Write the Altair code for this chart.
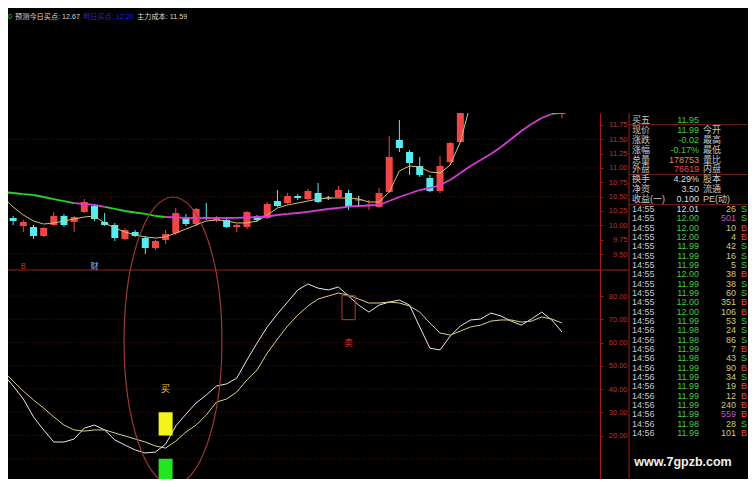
import altair as alt
import pandas as pd

# ---------------- candle data (daily OHLC) ----------------
opens = [10.564, 10.128, 9.988, 9.971, 9.814, 10.006, 10.163, 10.058, 10.233, 10.337,
         10.058, 10.006, 9.761, 9.884, 9.779, 9.604, 9.744, 9.866, 10.145, 10.023,
         10.145, 10.093, 10.093, 9.971, 9.971, 10.163, 10.128, 10.424, 10.389, 10.512,
         10.459, 10.564, 10.477, 10.494, 10.564, 10.442, 10.346, 10.320, 10.581, 11.488,
         11.279, 11.035, 10.826, 10.599, 11.105, 11.453, 12.10, 12.50, 12.85, 12.60,
         12.75, 12.38, 12.25, 12.15, 12.08, 11.94]
highs = [10.651, 10.163, 10.093, 10.006, 9.971, 10.233, 10.198, 10.163, 10.459, 10.372,
         10.215, 10.041, 9.953, 9.919, 9.814, 9.744, 9.919, 10.302, 10.198, 10.302,
         10.389, 10.163, 10.145, 10.023, 10.250, 10.180, 10.407, 10.616, 10.564, 10.546,
         10.634, 10.738, 10.512, 10.686, 10.616, 10.512, 10.442, 10.651, 11.558, 11.837,
         11.314, 11.192, 10.878, 11.209, 11.453, 12.10, 12.60, 12.95, 13.10, 12.90,
         12.85, 12.55, 12.40, 12.30, 12.20, 12.10]
lows = [10.076, 10.006, 9.884, 9.761, 9.796, 9.988, 9.971, 9.884, 10.215, 10.076,
        9.988, 9.727, 9.744, 9.796, 9.500, 9.570, 9.674, 9.831, 9.988, 9.988,
        10.093, 10.058, 9.953, 9.884, 9.936, 10.058, 10.110, 10.320, 10.372, 10.442,
        10.442, 10.389, 10.442, 10.477, 10.267, 10.320, 10.267, 10.302, 10.564, 11.279,
        10.878, 10.843, 10.581, 10.564, 11.052, 11.44, 12.02, 12.40, 12.55, 12.45,
        12.30, 12.15, 12.05, 12.00, 11.98, 11.87]
closes = [10.128, 10.076, 10.058, 9.814, 9.953, 10.163, 10.006, 10.145, 10.407, 10.110,
          10.006, 9.779, 9.919, 9.814, 9.604, 9.727, 9.849, 10.215, 10.023, 10.285,
          10.128, 10.145, 9.971, 10.006, 10.233, 10.093, 10.372, 10.337, 10.512, 10.477,
          10.599, 10.407, 10.477, 10.616, 10.320, 10.442, 10.355, 10.564, 11.192, 11.349,
          11.087, 10.878, 10.599, 11.035, 11.436, 12.05, 12.48, 12.80, 12.62, 12.78,
          12.40, 12.25, 12.12, 12.05, 12.01, 11.99]

ma5 = [10.494, 10.320, 10.180, 10.076, 10.023, 10.041, 10.076, 10.110, 10.145, 10.163,
       10.041, 9.953, 9.884, 9.832, 9.797, 9.779, 9.797, 9.866, 9.936, 10.006,
       10.076, 10.093, 10.076, 10.041, 10.041, 10.076, 10.180, 10.302, 10.355, 10.389,
       10.424, 10.459, 10.477, 10.477, 10.477, 10.459, 10.407, 10.407, 10.581, 10.948,
       11.035, 11.017, 10.930, 10.913, 11.052, 11.453, 12.12, 12.30, 12.50, 12.65,
       12.75, 12.70, 12.60, 12.45, 12.30, 12.15]

ma_long = [10.581, 10.564, 10.546, 10.529, 10.494, 10.459, 10.424, 10.389, 10.372, 10.355,
           10.320, 10.285, 10.250, 10.224, 10.198, 10.163, 10.145, 10.137, 10.128, 10.128,
           10.128, 10.128, 10.128, 10.130, 10.137, 10.145, 10.154, 10.180, 10.198, 10.215,
           10.233, 10.259, 10.285, 10.302, 10.328, 10.337, 10.346, 10.355, 10.424, 10.494,
           10.555, 10.616, 10.651, 10.703, 10.791, 10.913, 11.035, 11.140, 11.244, 11.366,
           11.506, 11.645, 11.767, 11.872, 11.942, 11.965]
# colour of each segment (starting at that day): g = green, m = magenta
ma_long_seg = (["g"] * 7 + ["m"] * 3 + ["g"] * 6 + ["m"] * 38 + ["g"] * 2)

# ---------------- oscillator ----------------
k_line = [46.5, 41.3, 35.7, 28.0, 22.4, 17.2, 17.2, 18.5, 23.2, 24.5,
          22.4, 18.1, 15.9, 13.8, 12.5, 12.9, 16.3, 24.1, 29.2, 34.0,
          37.4, 41.3, 42.2, 44.7, 52.5, 59.8, 66.7, 72.3, 77.4, 82.6,
          85.2, 83.4, 82.6, 83.9, 80.0, 76.1, 73.1, 76.1, 77.4, 78.3,
          76.1, 66.7, 57.6, 56.8, 62.8, 67.1, 69.7, 70.1, 72.7, 71.4,
          69.2, 67.5, 70.1, 73.1, 69.7, 64.5]
d_line = [47.7, 43.4, 39.1, 35.3, 31.8, 28.0, 24.5, 22.4, 21.9, 22.4,
          22.4, 21.1, 19.8, 18.5, 17.2, 15.5, 14.6, 17.6, 21.5, 24.5,
          28.8, 34.4, 35.7, 38.7, 43.9, 48.2, 55.5, 61.5, 67.1, 71.8,
          75.7, 78.7, 80.0, 81.3, 80.4, 78.7, 77.0, 77.0, 77.4, 77.0,
          75.7, 73.1, 68.4, 64.1, 63.2, 64.9, 66.7, 67.5, 69.2, 69.7,
          69.7, 68.8, 69.2, 71.0, 70.1, 68.4]

buy_day = 16
sell_day = 34

# ---------------- quote table ----------------
sum_labels = ["买五", "现价", "涨跌", "涨幅", "总量", "外盘", "换手", "净资", "收益(一)"]
sum_values = ["11.95", "11.99", "-0.02", "-0.17%", "178753", "76619", "4.29%", "3.50", "0.100"]
sum_kinds = ["down", "down", "down", "down", "vol", "up", "plain", "plain", "plain"]
sum_labels2 = ["", "今开", "最高", "最低", "量比", "内盘", "股本", "流通", "PE(动)"]

prev_close = 12.01
trade_times = ["14:55"] * 12 + ["14:56"] * 13
trade_prices = [12.01, 12.00, 12.00, 12.00, 11.99, 11.99, 11.99, 12.00, 11.99, 11.99,
                12.00, 12.00, 11.99, 11.98, 11.98, 11.99, 11.98, 11.99, 11.99, 11.99,
                11.99, 11.99, 11.99, 11.98, 11.99]
trade_vols = [26, 501, 10, 4, 42, 16, 5, 38, 38, 60, 351, 106, 53, 24, 86, 7, 43, 90,
              34, 19, 12, 240, 559, 28, 101]
trade_sides = ["S", "S", "B", "B", "S", "S", "S", "B", "S", "S", "B", "B", "S", "S",
               "S", "B", "S", "B", "S", "B", "B", "B", "B", "S", "B"]

price_ticks = [9.5, 9.75, 10.0, 10.25, 10.5, 10.75, 11.0, 11.25, 11.5, 11.75]
price_grid = [9.5, 10.0, 10.5, 11.0, 11.5]
osc_ticks = [20, 30, 40, 50, 60, 70, 80]
osc_grid = [10, 20, 30, 40, 50, 60, 70, 80]

# ---------------- styling ----------------
UP, DOWN, FLAT = "#f24646", "#54eef2", "#e0e0e0"
GREEN_T, RED_T, WHITE_T, LABEL_T = "#3fcf3f", "#e84848", "#dcdcdc", "#c8c8c8"
FRAME = "#a01e1e"
FONT = "Liberation Sans, Noto Sans CJK SC"
CJK = "Noto Sans CJK SC"
TFS = 9  # table font size


def ccol(o, c):
    if c > o + 1e-9:
        return UP
    if c < o - 1e-9:
        return DOWN
    return FLAT


n = len(opens)
candles = pd.DataFrame({"i": range(n), "o": opens, "h": highs, "l": lows, "c": closes})
candles["col"] = [ccol(o, c) for o, c in zip(opens, closes)]
flat_c = candles[(candles["c"] - candles["o"]).abs() < 0.02]

seg_rows = []
for i in range(n - 1):
    colr = "#2ed02e" if ma_long_seg[i] == "g" else "#d83cd8"
    seg_rows.append({"seg": i, "i": i, "v": ma_long[i], "col": colr})
    seg_rows.append({"seg": i, "i": i + 1, "v": ma_long[i + 1], "col": colr})
ma_long_df = pd.DataFrame(seg_rows)
ma5_df = pd.DataFrame({"i": range(n), "v": ma5})
osc_df = pd.DataFrame({"i": list(range(n)) * 2, "v": k_line + d_line,
                       "s": ["K"] * n + ["D"] * n})

X = alt.Scale(domain=[0, 55], range=[-5, 554], nice=False, zero=False)
PY = alt.Scale(domain=[9.221, 11.959], range=[157, 0], nice=False, zero=False)
OY = alt.Scale(domain=[0, 91.2], range=[369, 157], nice=False, zero=False)

axis_common = dict(orient="right", offset=-148, format=".2f", labelColor="#b23a3a",
                   labelFontSize=7.5, labelFont="Liberation Sans", labelAlign="right",
                   labelPadding=24, tickSize=3, tickColor=FRAME, domainColor=FRAME,
                   grid=False, title=None, labelOverlap=False, labelBaseline="middle")
price_axis = alt.Axis(values=price_ticks, **axis_common)
osc_axis = alt.Axis(values=osc_ticks, **axis_common)

xi = alt.X("i:Q", scale=X, axis=None)

# price panel
pgrid = alt.Chart(pd.DataFrame({"v": price_grid})).mark_rule(
    color="#4a1010", strokeDash=[1, 2], strokeWidth=1).encode(
    y=alt.Y("v:Q", scale=PY, axis=None), x=alt.value(0), x2=alt.value(592))
wick = alt.Chart(candles).mark_rule(strokeWidth=1, clip=True).encode(
    x=xi, y=alt.Y("l:Q", scale=PY, axis=price_axis), y2="h:Q",
    color=alt.Color("col:N", scale=None))
body = alt.Chart(candles).mark_rule(strokeWidth=7, clip=True).encode(
    x=xi, y=alt.Y("o:Q", scale=PY, axis=None), y2="c:Q",
    color=alt.Color("col:N", scale=None))
doji = alt.Chart(flat_c).mark_tick(orient="horizontal", size=7, thickness=1, clip=True).encode(
    x=xi, y=alt.Y("c:Q", scale=PY, axis=None), color=alt.Color("col:N", scale=None))
ma5_line = alt.Chart(ma5_df).mark_line(color="#d6c274", strokeWidth=1, clip=True).encode(
    x=xi, y=alt.Y("v:Q", scale=PY, axis=None))
mal_line = alt.Chart(ma_long_df).mark_line(strokeWidth=1.8, clip=True).encode(
    x=xi, y=alt.Y("v:Q", scale=PY, axis=None), detail="seg:N",
    color=alt.Color("col:N", scale=None))
ev_df = pd.DataFrame({"i": [2, 9], "t": ["B", "财"], "col": ["#d23030", "#9cc0ec"]})
events = alt.Chart(ev_df).mark_text(fontSize=8, font=CJK, baseline="middle").encode(
    x=xi, y=alt.value(154), text="t:N", color=alt.Color("col:N", scale=None))

# oscillator panel
ogrid = alt.Chart(pd.DataFrame({"v": osc_grid})).mark_rule(
    color="#4a1010", strokeDash=[1, 2], strokeWidth=1).encode(
    y=alt.Y("v:Q", scale=OY, axis=None), x=alt.value(0), x2=alt.value(592))
osc_lines = alt.Chart(osc_df).mark_line(strokeWidth=1).encode(
    x=xi, y=alt.Y("v:Q", scale=OY, axis=osc_axis),
    color=alt.Color("s:N", scale=alt.Scale(domain=["K", "D"], range=["#e8e8e8", "#d8d08c"]),
                    legend=None))
sig_df = pd.DataFrame({"i": [buy_day, buy_day], "v0": [20, 0], "v1": [30, 10],
                       "col": ["#f4f41c", "#22e622"]})
sig_boxes = alt.Chart(sig_df).mark_rule(strokeWidth=14).encode(
    x=xi, y=alt.Y("v0:Q", scale=OY, axis=None), y2="v1:Q",
    color=alt.Color("col:N", scale=None))
sell_box = alt.Chart(pd.DataFrame({"i": [sell_day], "v": [75]})).mark_point(
    shape="M-0.55,-1L0.55,-1L0.55,1L-0.55,1Z", size=576, filled=False,
    color="#c83232", strokeWidth=1, opacity=1).encode(
    x=xi, y=alt.Y("v:Q", scale=OY, axis=None))
sig_txt = alt.Chart(pd.DataFrame({"i": [buy_day, sell_day], "v": [40, 60], "t": ["买", "卖"],
                                  "col": ["#e6d22a", "#e03030"]})).mark_text(
    fontSize=9, font=CJK, baseline="middle").encode(
    x=xi, y=alt.Y("v:Q", scale=OY, axis=None), text="t:N",
    color=alt.Color("col:N", scale=None))
ellipse = alt.Chart(pd.DataFrame({"a": [0]})).mark_point(
    shape="M0,-1A0.34,1 0 1,1 0,1A0.34,1 0 1,1 0,-1Z", size=82944, filled=False,
    color="#9c3a36", strokeWidth=1.2, opacity=1).encode(x=alt.value(165), y=alt.value(228))

# frame lines
frame_df = pd.DataFrame({"x": [0, 621, 621, 621, 621], "x2": [621, 621, 740, 740, 740],
                         "y": [157, 0, 11.5, 61.5, 91.5], "y2": [157, 366, 11.5, 61.5, 91.5],
                         "col": [FRAME, FRAME, "#6a1a1a", "#6a1a1a", "#6a1a1a"]})
frames = alt.Chart(frame_df).mark_rule(strokeWidth=1).encode(
    x=alt.X("x:Q", scale=None), x2="x2:Q", y=alt.Y("y:Q", scale=None), y2="y2:Q",
    color=alt.Color("col:N", scale=None))


# header
def head(txt, xpos, colr, align="left"):
    return alt.Chart(pd.DataFrame({"t": [txt]})).mark_text(
        fontSize=7.2, font=FONT, align=align, baseline="middle", color=colr).encode(
        text="t:N", x=alt.value(xpos), y=alt.value(-96))


header = [head("12.00", 4, "#2ed02e", "right"),
          head("预测今日买点: 12.67", 7, "#d8d8d8"),
          head("明日买点: 12.20", 75, "#2424e0"),
          head("主力成本: 11.59", 129, "#d8d8d8")]

# quote table
kind_col = {"down": GREEN_T, "up": RED_T, "vol": "#d89a58", "plain": WHITE_T}
sum_df = pd.DataFrame({"r": range(len(sum_labels)), "lab": sum_labels, "val": sum_values,
                       "lab2": sum_labels2, "col": [kind_col[k] for k in sum_kinds]})
SY = alt.Scale(domain=[0, 8], range=[7, 86], nice=False, zero=False)
ys = alt.Y("r:Q", scale=SY, axis=None)
t_lab = alt.Chart(sum_df).mark_text(fontSize=TFS, font=FONT, align="left", baseline="middle",
                                    color=LABEL_T).encode(x=alt.value(624), y=ys, text="lab:N")
t_val = alt.Chart(sum_df).mark_text(fontSize=TFS, font=FONT, align="right", baseline="middle").encode(
    x=alt.value(691), y=ys, text="val:N", color=alt.Color("col:N", scale=None))
t_lab2 = alt.Chart(sum_df).mark_text(fontSize=TFS, font=FONT, align="left", baseline="middle",
                                     color=LABEL_T).encode(x=alt.value(695), y=ys, text="lab2:N")

tr = pd.DataFrame({"r": range(len(trade_times)), "tm": trade_times,
                   "p": [f"{p:.2f}" for p in trade_prices],
                   "vol": [str(v) for v in trade_vols], "sd": trade_sides})
tr["pc"] = [WHITE_T if p == prev_close else (GREEN_T if p < prev_close else RED_T)
            for p in trade_prices]
tr["vc"] = ["#c050c8" if v >= 500 else "#cfc878" for v in trade_vols]
tr["sc"] = [RED_T if s == "B" else GREEN_T for s in trade_sides]
TY = alt.Scale(domain=[0, 24], range=[96, 320], nice=False, zero=False)
yt = alt.Y("r:Q", scale=TY, axis=None)
tt = alt.Chart(tr).mark_text(fontSize=TFS, font=FONT, align="left", baseline="middle",
                             color=LABEL_T).encode(x=alt.value(624), y=yt, text="tm:N")
tp = alt.Chart(tr).mark_text(fontSize=TFS, font=FONT, align="right", baseline="middle").encode(
    x=alt.value(691), y=yt, text="p:N", color=alt.Color("pc:N", scale=None))
tv = alt.Chart(tr).mark_text(fontSize=TFS, font=FONT, align="right", baseline="middle").encode(
    x=alt.value(728), y=yt, text="vol:N", color=alt.Color("vc:N", scale=None))
tsd = alt.Chart(tr).mark_text(fontSize=TFS, font=FONT, align="right", baseline="middle").encode(
    x=alt.value(739), y=yt, text="sd:N", color=alt.Color("sc:N", scale=None))

wm = alt.Chart(pd.DataFrame({"t": ["www.7gpzb.com"]})).mark_text(
    fontSize=12.5, font="Liberation Sans", fontWeight="bold", color="#f0f0f0",
    align="center", baseline="middle").encode(text="t:N", x=alt.value(675), y=alt.value(349))

chart = alt.layer(
    pgrid, ogrid, frames, wick, body, doji, ma5_line, mal_line, events,
    osc_lines, sig_boxes, sell_box, sig_txt, ellipse,
    t_lab, t_val, t_lab2, tt, tp, tv, tsd, wm, *header
).resolve_scale(y="independent", color="independent").properties(
    width=740, height=366,
    padding={"left": 0, "top": 105, "right": 0, "bottom": 0},
    autosize=alt.AutoSizeParams(type="none"),
).configure(background="black").configure_view(stroke=None)

chart.save("out.html", embed_options={"renderer": "svg", "actions": False})
